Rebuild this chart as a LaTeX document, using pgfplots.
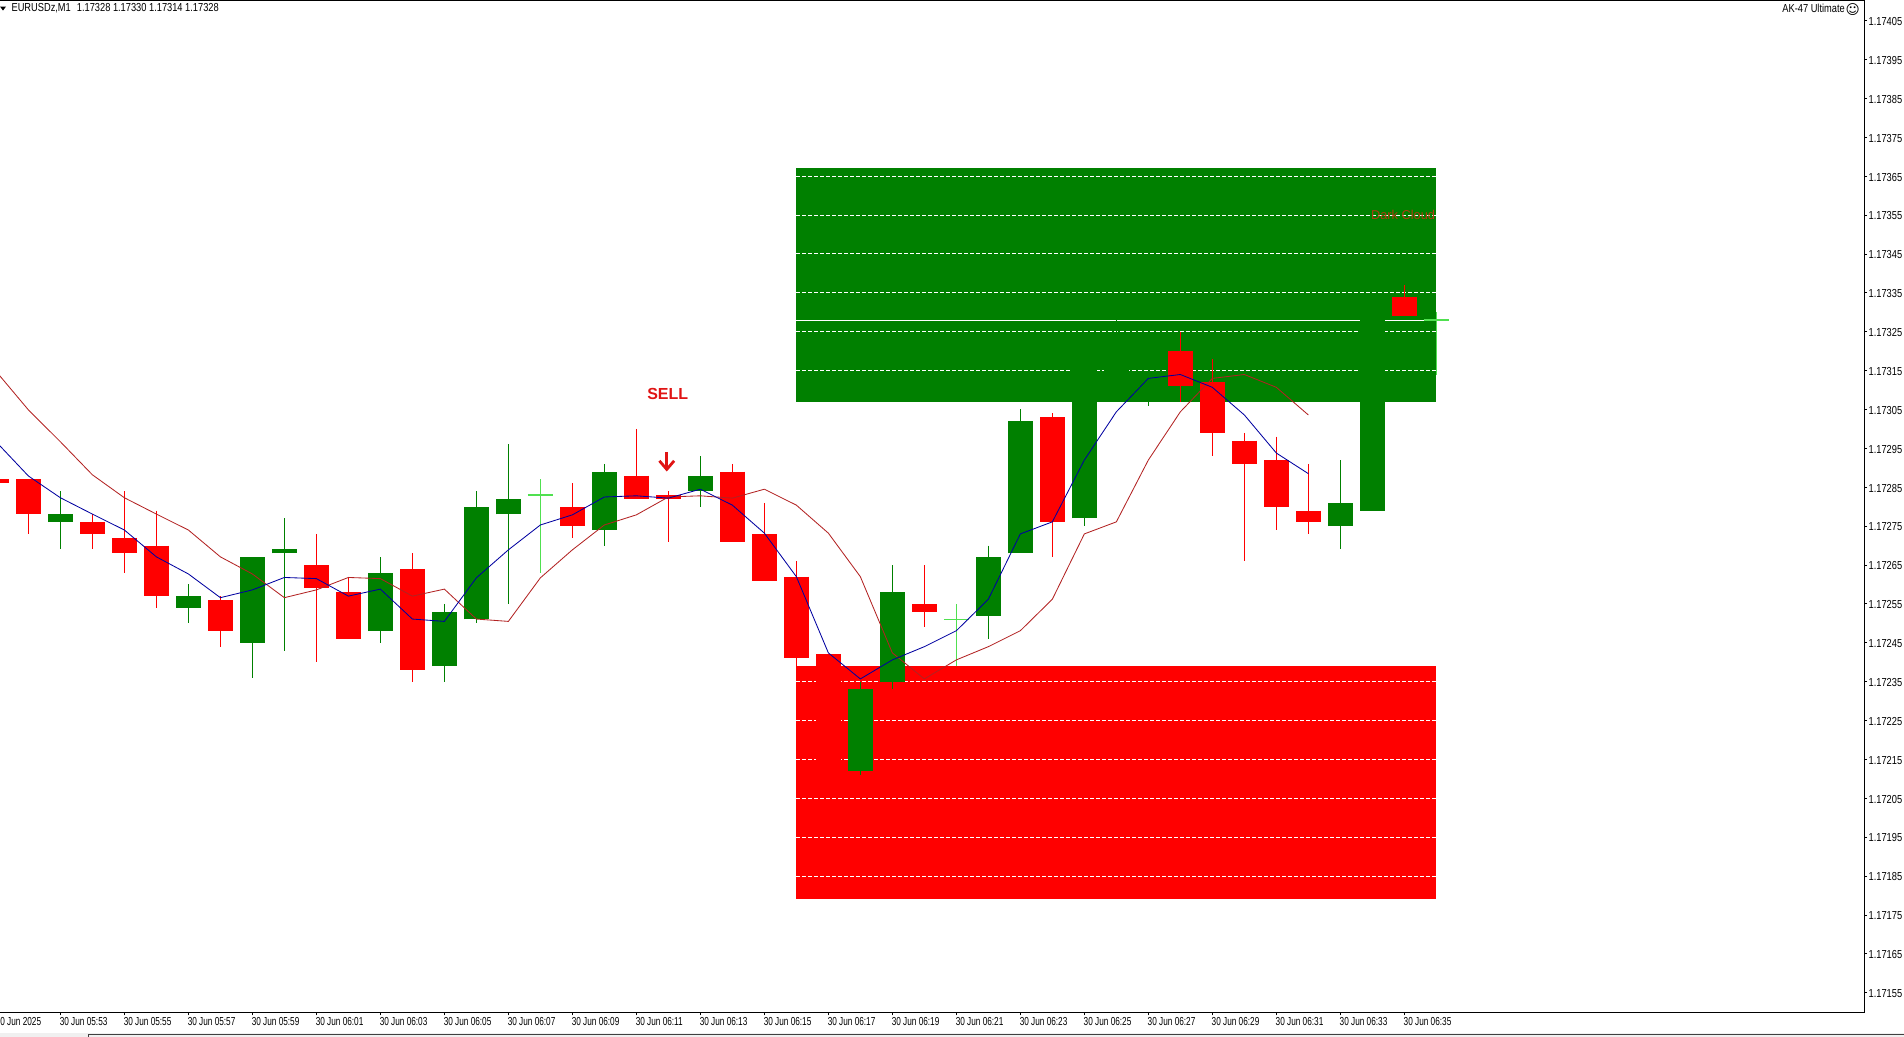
\documentclass[border=0pt]{standalone}
\usepackage{pgfplots}
\pgfplotsset{compat=1.18}
\usepackage{fontspec}
\setmainfont{Liberation Sans}
\newfontfamily\xfont[FakeStretch=0.71]{Liberation Sans}
\newfontfamily\yfont[FakeStretch=0.80]{Liberation Sans}
\newfontfamily\symfont{DejaVu Sans}
\definecolor{cgreen}{HTML}{008000}
\definecolor{cred}{HTML}{FF0000}
\definecolor{clime}{HTML}{50E050}
\definecolor{mablue}{HTML}{0000A0}
\definecolor{mared}{HTML}{B22222}
\definecolor{selred}{HTML}{E01414}
\definecolor{cloud}{HTML}{B03A10}
\newcommand{\cdl}[6]{%
  \addplot[#1,line width=0.55pt] coordinates {(#2,#4) (#2,#5)};
  \addplot[#1,line width=12.5pt] coordinates {(#2,#3) (#2,#6)};
}
\newcommand{\zonegrid}[1]{\addplot[white,line width=0.5pt,dash pattern=on 2pt off 1pt] coordinates {(23,#1) (43,#1)};}
\begin{document}
\begin{tikzpicture}
\path[use as bounding box,clip] (0,0) rectangle (952pt,518.5pt);
\fill[black!6] (0,0) rectangle (952pt,2pt);
\draw[black!75,line width=0.5pt] (44pt,0) -- (44pt,1pt) -- (952pt,1pt);
\fill[black] (0pt,515.2pt) -- (3pt,515.2pt) -- (1.5pt,513.2pt) -- cycle;
\node[anchor=west,inner sep=0pt,font=\yfont\fontsize{5.8pt}{6pt}\selectfont] at (5.6pt,514.2pt) {EURUSDz,M1\hspace{3pt}1.17328 1.17330 1.17314 1.17328};
\node[anchor=east,inner sep=0pt,font=\yfont\fontsize{5.8pt}{6pt}\selectfont] at (922.6pt,514.2pt) {AK-47 Ultimate};
\node[inner sep=0pt,font=\symfont\fontsize{6.8pt}{7pt}\selectfont] at (926.4pt,513.6pt) {☺};
\begin{axis}[
  at={(-5pt,12.35pt)},anchor=south west,
  scale only axis,width=937pt,height=505.65pt,
  xmin=-2.2,xmax=56.366,ymin=1.1714996,ymax=1.1741007,
  axis line style={line width=0.5pt,black},
  tick style={black,line width=0.4pt},
  major tick length=1.6pt,tick align=outside,
  xtick pos=lower,ytick pos=upper,
  xtick={-2,0,2,4,6,8,10,12,14,16,18,20,22,24,26,28,30,32,34,36,38,40,42},
  xticklabels={30 Jun 2025,30 Jun 05:53,30 Jun 05:55,30 Jun 05:57,30 Jun 05:59,30 Jun 06:01,30 Jun 06:03,30 Jun 06:05,30 Jun 06:07,30 Jun 06:09,30 Jun 06:11,30 Jun 06:13,30 Jun 06:15,30 Jun 06:17,30 Jun 06:19,30 Jun 06:21,30 Jun 06:23,30 Jun 06:25,30 Jun 06:27,30 Jun 06:29,30 Jun 06:31,30 Jun 06:33,30 Jun 06:35},
  ytick={1.17155,1.17165,1.17175,1.17185,1.17195,1.17205,1.17215,1.17225,1.17235,1.17245,1.17255,1.17265,1.17275,1.17285,1.17295,1.17305,1.17315,1.17325,1.17335,1.17345,1.17355,1.17365,1.17375,1.17385,1.17395,1.17405},
  yticklabels={1.17155,1.17165,1.17175,1.17185,1.17195,1.17205,1.17215,1.17225,1.17235,1.17245,1.17255,1.17265,1.17275,1.17285,1.17295,1.17305,1.17315,1.17325,1.17335,1.17345,1.17355,1.17365,1.17375,1.17385,1.17395,1.17405},
  xticklabel style={anchor=north west,inner sep=0pt,xshift=-0.5pt,yshift=-1pt,font=\xfont\fontsize{5.8pt}{6pt}\selectfont},
  yticklabel style={anchor=west,inner sep=0pt,xshift=0.5pt,yshift=-0.4pt,font=\yfont\fontsize{5.8pt}{6pt}\selectfont},
]
% zones
\addplot[fill=cgreen,draw=none] coordinates {(23,1.17367) (43,1.17367) (43,1.17307) (23,1.17307)} -- cycle;
\addplot[fill=cred,draw=none] coordinates {(23,1.17239) (43,1.17239) (43,1.17179) (23,1.17179)} -- cycle;
\zonegrid{1.17365}\zonegrid{1.17355}\zonegrid{1.17345}\zonegrid{1.17335}\zonegrid{1.17325}\zonegrid{1.17315}
\zonegrid{1.17235}\zonegrid{1.17225}\zonegrid{1.17215}\zonegrid{1.17205}\zonegrid{1.17195}\zonegrid{1.17185}
\addplot[white,line width=0.5pt] coordinates {(23,1.17328) (42.6,1.17328)};
% candles: colour, minute, open, high, low, close
\cdl{cred}{-2}{1.17287}{1.17287}{1.17286}{1.17286}
\cdl{cred}{-1}{1.17287}{1.17287}{1.17273}{1.17278}
\cdl{cgreen}{0}{1.17276}{1.17284}{1.17269}{1.17278}
\cdl{cred}{1}{1.17276}{1.17278}{1.17269}{1.17273}
\cdl{cred}{2}{1.17272}{1.17284}{1.17263}{1.17268}
\cdl{cred}{3}{1.17270}{1.17279}{1.17254}{1.17257}
\cdl{cgreen}{4}{1.17254}{1.17260}{1.17250}{1.17257}
\cdl{cred}{5}{1.17256}{1.17257}{1.17244}{1.17248}
\cdl{cgreen}{6}{1.17245}{1.17267}{1.17236}{1.17267}
\cdl{cgreen}{7}{1.17268}{1.17277}{1.17243}{1.17269}
\cdl{cred}{8}{1.17265}{1.17273}{1.17240}{1.17259}
\cdl{cred}{9}{1.17258}{1.17262}{1.17246}{1.17246}
\cdl{cgreen}{10}{1.17248}{1.17267}{1.17245}{1.17263}
\cdl{cred}{11}{1.17264}{1.17268}{1.17235}{1.17238}
\cdl{cgreen}{12}{1.17239}{1.17255}{1.17235}{1.17253}
\cdl{cgreen}{13}{1.17251}{1.17284}{1.17250}{1.17280}
\cdl{cgreen}{14}{1.17278}{1.17296}{1.17255}{1.17282}
\addplot[clime,line width=0.6pt] coordinates {(15,1.17287) (15,1.17263)};
\addplot[clime,line width=0.6pt] coordinates {(14.61,1.17283) (15.39,1.17283)};
\cdl{cred}{16}{1.17280}{1.17286}{1.17272}{1.17275}
\cdl{cgreen}{17}{1.17274}{1.17291}{1.17270}{1.17289}
\cdl{cred}{18}{1.17288}{1.17300}{1.17282}{1.17282}
\cdl{cred}{19}{1.17283}{1.17284}{1.17271}{1.17282}
\cdl{cgreen}{20}{1.17284}{1.17293}{1.17280}{1.17288}
\cdl{cred}{21}{1.17289}{1.17291}{1.17271}{1.17271}
\cdl{cred}{22}{1.17273}{1.17281}{1.17261}{1.17261}
\cdl{cred}{23}{1.17262}{1.17266}{1.17239}{1.17241}
\cdl{cred}{24}{1.17242}{1.17242}{1.17212}{1.17212}
\cdl{cgreen}{25}{1.17212}{1.17235}{1.17211}{1.17233}
\cdl{cgreen}{26}{1.17235}{1.17265}{1.17233}{1.17258}
\cdl{cred}{27}{1.17255}{1.17265}{1.17249}{1.17253}
\addplot[clime,line width=0.6pt] coordinates {(28,1.17255) (28,1.17239)};
\addplot[clime,line width=0.6pt] coordinates {(27.61,1.17251) (28.39,1.17251)};
\cdl{cgreen}{29}{1.17252}{1.17270}{1.17246}{1.17267}
\cdl{cgreen}{30}{1.17268}{1.17305}{1.17268}{1.17302}
\cdl{cred}{31}{1.17303}{1.17304}{1.17267}{1.17276}
\cdl{cgreen}{32}{1.17277}{1.17322}{1.17275}{1.17320}
\cdl{cgreen}{33}{1.17310}{1.17329}{1.17307}{1.17320}
\cdl{cgreen}{34}{1.17310}{1.17316}{1.17306}{1.17313}
\cdl{cred}{35}{1.17320}{1.17325}{1.17307}{1.17311}
\cdl{cred}{36}{1.17312}{1.17318}{1.17293}{1.17299}
\cdl{cred}{37}{1.17297}{1.17299}{1.17266}{1.17291}
\cdl{cred}{38}{1.17292}{1.17298}{1.17274}{1.17280}
\cdl{cred}{39}{1.17279}{1.17291}{1.17273}{1.17276}
\cdl{cgreen}{40}{1.17275}{1.17292}{1.17269}{1.17281}
\cdl{cgreen}{41}{1.17279}{1.17334}{1.17279}{1.17334}
\cdl{cred}{42}{1.17334}{1.17337}{1.17329}{1.17329}
\addplot[clime,line width=0.6pt] coordinates {(43,1.17330) (43,1.17314)};
\addplot[clime,line width=0.6pt] coordinates {(42.6,1.17328) (43.39,1.17328)};
% slow average
\addplot[mared,line width=0.42pt] coordinates {
(-2,1.173147)(-1,1.173049)(0,1.172967)(1,1.172882)(2,1.172823)(3,1.172781)(4,1.172740)(5,1.172671)
(6,1.172627)(7,1.172566)(8,1.172586)(9,1.172618)(10,1.172615)(11,1.172570)(12,1.172588)(13,1.172511)
(14,1.172505)(15,1.172617)(16,1.172689)(17,1.172753)(18,1.172779)(19,1.172825)(20,1.172828)(21,1.172822)
(22,1.172845)(23,1.172804)(24,1.172732)(25,1.172620)(26,1.172424)(27,1.172357)(28,1.172406)(29,1.172440)
(30,1.172481)(31,1.172562)(32,1.172730)(33,1.172761)(34,1.172920)(35,1.173044)(36,1.173130)(37,1.173140)
(38,1.173107)(39,1.173036)};
% fast average
\addplot[mablue,line width=0.42pt] coordinates {
(-2,1.172966)(-1,1.172879)(0,1.172823)(1,1.172781)(2,1.172740)(3,1.172671)(4,1.172627)(5,1.172566)
(6,1.172586)(7,1.172618)(8,1.172615)(9,1.172570)(10,1.172588)(11,1.172511)(12,1.172505)(13,1.172617)
(14,1.172689)(15,1.172753)(16,1.172779)(17,1.172825)(18,1.172828)(19,1.172822)(20,1.172845)(21,1.172804)
(22,1.172732)(23,1.172620)(24,1.172424)(25,1.172357)(26,1.172406)(27,1.172440)(28,1.172481)(29,1.172562)
(30,1.172730)(31,1.172761)(32,1.172920)(33,1.173044)(34,1.173130)(35,1.173140)(36,1.173107)(37,1.173036)
(38,1.172938)(39,1.172885)};
% signal arrow
\addplot[selred,line width=1.5pt] coordinates {(18.95,1.172941) (18.95,1.172900)};
\addplot[selred,line width=1.4pt,miter limit=4] coordinates {(18.72,1.172918) (18.95,1.172896) (19.18,1.172918)};
\node[text=selred,font=\bfseries\fontsize{8pt}{9pt}\selectfont,inner sep=0pt] at (axis cs:18.98,1.17309) {SELL};
\node[text=cloud,font=\fontsize{6.4pt}{7pt}\selectfont,inner sep=0pt] at (axis cs:41.96,1.17355) {Dark Cloud};
% last price
\node[fill=black,text=white,anchor=west,inner sep=0pt,minimum height=5.5pt,minimum width=19.5pt,font=\yfont\fontsize{5.8pt}{6pt}\selectfont] at (axis cs:56.40,1.17328) {\,1.17328};
\end{axis}
\end{tikzpicture}
\end{document}
